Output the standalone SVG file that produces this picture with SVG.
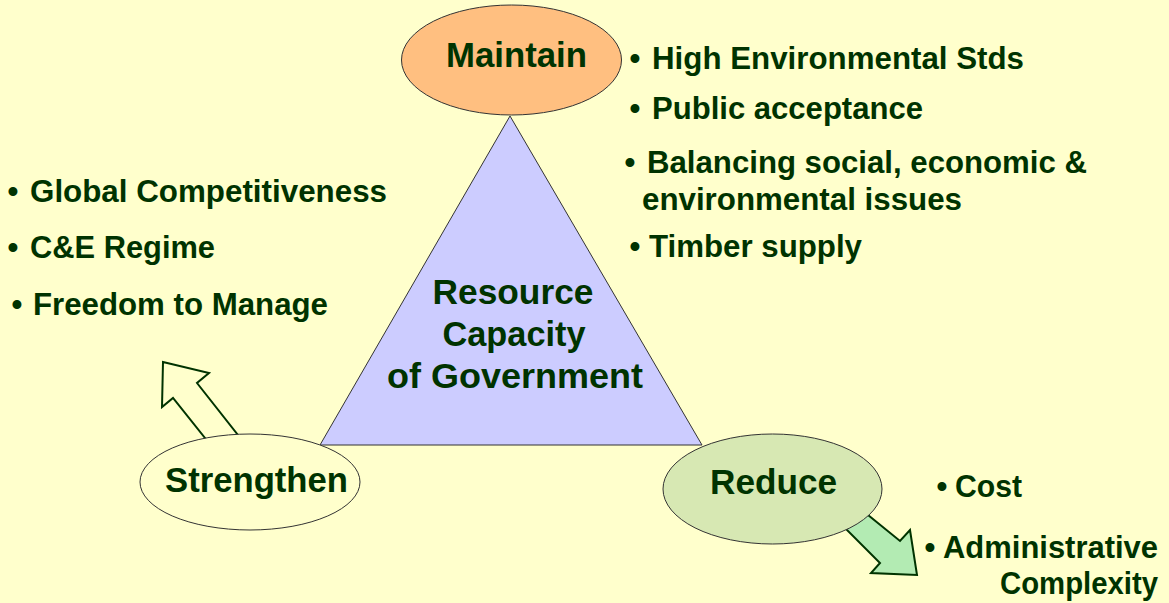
<svg xmlns="http://www.w3.org/2000/svg" width="1169" height="603" viewBox="0 0 1169 603">
<style>
.t{font-family:"Liberation Sans",Arial,sans-serif;font-weight:bold;fill:#003300}
.big{font-size:35px}
.mid{font-size:35px}
.b{font-size:31px}
.node{stroke:#333333;stroke-width:1}
.arrow{stroke:#003300;stroke-width:2;stroke-linejoin:miter}
</style>
<rect width="1169" height="603" fill="#FFFFCC"/>
<g id="connectors">
  <polygon class="arrow" fill="#FFFFCC" points="163,362 209,373 197,383 245,444 213,448 173,398 162,407"/>
  <polygon class="arrow" fill="#B3EBB3" points="852,502 900,541 910,530 917,575 871,573 880,563 832,515"/>
</g>
<g id="resource">
  <polygon class="node" fill="#CCCCFF" points="510,116 320,445 702,445"/>
  <text class="t mid" x="513" y="304" text-anchor="middle" textLength="161" lengthAdjust="spacingAndGlyphs">Resource</text>
  <text class="t mid" x="514" y="346" text-anchor="middle" textLength="143" lengthAdjust="spacingAndGlyphs">Capacity</text>
  <text class="t mid" x="515" y="388" text-anchor="middle" textLength="256" lengthAdjust="spacingAndGlyphs">of Government</text>
</g>
<g id="maintain">
  <ellipse class="node" fill="#FFBF80" cx="511.5" cy="60" rx="110" ry="55"/>
  <text class="t big" x="516.5" y="67" text-anchor="middle" textLength="141" lengthAdjust="spacingAndGlyphs">Maintain</text>
</g>
<g id="strengthen">
  <ellipse class="node" fill="#FFFFCC" cx="250" cy="482" rx="110" ry="48"/>
  <text class="t big" x="256.5" y="492" text-anchor="middle" textLength="183" lengthAdjust="spacingAndGlyphs">Strengthen</text>
</g>
<g id="reduce">
  <ellipse class="node" fill="#D7E8B3" cx="772.5" cy="489" rx="109.5" ry="55"/>
  <text class="t big" x="773.5" y="494" text-anchor="middle" textLength="127" lengthAdjust="spacingAndGlyphs">Reduce</text>
</g>
<g id="maintain-list">
  <text class="t b" x="635" y="69" text-anchor="middle">•</text>
  <text class="t b" x="652" y="69" textLength="372" lengthAdjust="spacingAndGlyphs">High Environmental Stds</text>
  <text class="t b" x="635" y="119" text-anchor="middle">•</text>
  <text class="t b" x="652" y="119" textLength="271" lengthAdjust="spacingAndGlyphs">Public acceptance</text>
  <text class="t b" x="630" y="173" text-anchor="middle">•</text>
  <text class="t b" x="647" y="173" textLength="440" lengthAdjust="spacingAndGlyphs">Balancing social, economic &amp;</text>
  <text class="t b" x="642" y="210" textLength="320" lengthAdjust="spacingAndGlyphs">environmental issues</text>
  <text class="t b" x="635" y="257" text-anchor="middle">•</text>
  <text class="t b" x="649" y="257" textLength="213" lengthAdjust="spacingAndGlyphs">Timber supply</text>
</g>
<g id="strengthen-list">
  <text class="t b" x="13" y="202" text-anchor="middle">•</text>
  <text class="t b" x="30" y="202" textLength="357" lengthAdjust="spacingAndGlyphs">Global Competitiveness</text>
  <text class="t b" x="13" y="258" text-anchor="middle">•</text>
  <text class="t b" x="30" y="258" textLength="185" lengthAdjust="spacingAndGlyphs">C&amp;E Regime</text>
  <text class="t b" x="17" y="315" text-anchor="middle">•</text>
  <text class="t b" x="33" y="315" textLength="295" lengthAdjust="spacingAndGlyphs">Freedom to Manage</text>
</g>
<g id="reduce-list">
  <text class="t b" x="942" y="497" text-anchor="middle">•</text>
  <text class="t b" x="955" y="497" textLength="67" lengthAdjust="spacingAndGlyphs">Cost</text>
  <text class="t b" x="930" y="558" text-anchor="middle">•</text>
  <text class="t b" x="943" y="558" textLength="215" lengthAdjust="spacingAndGlyphs">Administrative</text>
  <text class="t b" x="1158" y="594" text-anchor="end" textLength="158" lengthAdjust="spacingAndGlyphs">Complexity</text>
</g>
</svg>
